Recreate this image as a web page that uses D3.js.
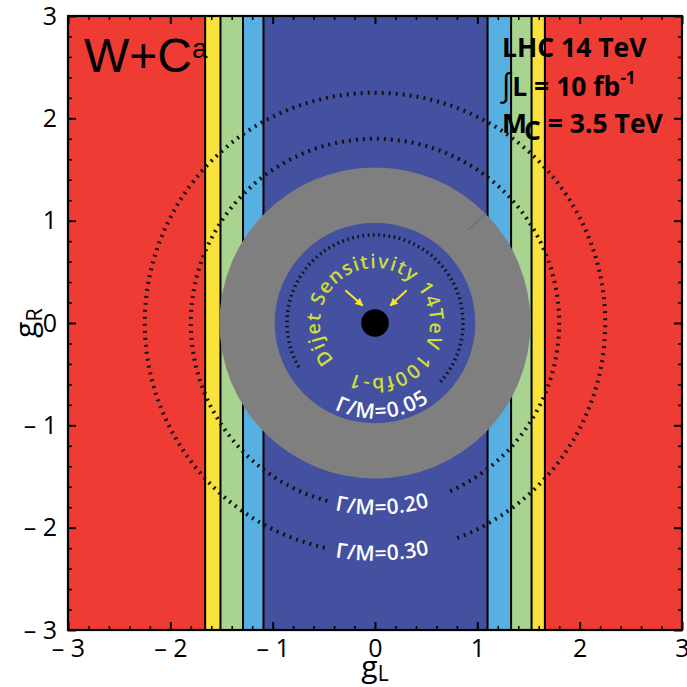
<!DOCTYPE html>
<html><head><meta charset="utf-8">
<script src="https://cdn.jsdelivr.net/npm/d3@7"></script>
<style>body{margin:0;background:#fff}svg{display:block}</style>
</head><body>
<svg id="chart" width="687" height="687"></svg>
<script>
// ---------- data ----------
const xDomain = [-3, 3];
const yDomain = [-3, 3];
const majorTicks = [-3, -2, -1, 0, 1, 2, 3];
const minorTicks = [-2.8,-2.6,-2.4,-2.2,-1.8,-1.6,-1.4,-1.2,-0.8,-0.6,-0.4,-0.2,0.2,0.4,0.6,0.8,1.2,1.4,1.6,1.8,2.2,2.4,2.6,2.8];
const bandEdges = [-1.66, -1.51, -1.29, -1.09, 1.10, 1.33, 1.53, 1.66];
const bandColors = ["#ee3b34", "#f9e23c", "#a9d48f", "#57b0e2", "#4450a0", "#57b0e2", "#a9d48f", "#f9e23c", "#ee3b34"];
const ringRadii = [1.52, 0.98];        // gray annulus outer / inner (dijet sensitivity)
const pointRadius = 0.135;             // point at origin
const contourLabels = ["Γ/M=0.05", "Γ/M=0.20", "Γ/M=0.30"];
const contourRadii = [0.86, 1.80, 2.25];
const contourGapLeft = [60, 15, 12.6];   // degrees from bottom
const contourGapRight = [48, 23, 19.8];
const dijetLabel = "Dijet Sensitivity 14TeV 100fb-1";
const arrowsFrom = [[-0.29, 0.32], [0.31, 0.32]];
const arrowsTo = [[-0.12, 0.17], [0.15, 0.17]];

// ---------- layout ----------
const svg = d3.select("#chart");
const L = 68, T = 16, S = 614;
const x = d3.scaleLinear().domain(xDomain).range([L, L + S]);
const y = d3.scaleLinear().domain(yDomain).range([T + S, T]);
const cx = x(0), cy = y(0);
const rpx = v => x(v) - x(0);

svg.append("clipPath").attr("id", "clip").append("rect")
  .attr("x", L).attr("y", T).attr("width", S).attr("height", S);
const g = svg.append("g").attr("clip-path", "url(#clip)");

// bands
const edges = [xDomain[0], ...bandEdges, xDomain[1]];
const bands = bandColors.map((c, i) => ({x0: edges[i], x1: edges[i + 1], c}));
g.selectAll("rect.band").data(bands).join("rect")
  .attr("x", d => x(d.x0)).attr("width", d => x(d.x1) - x(d.x0))
  .attr("y", T).attr("height", S).attr("fill", d => d.c);
g.selectAll("line.edge").data(bandEdges).join("line")
  .attr("x1", d => x(d)).attr("x2", d => x(d)).attr("y1", T).attr("y2", T + S)
  .attr("stroke", "#000").attr("stroke-width", 2);

// gray ring + inner disc
g.append("circle").attr("cx", cx).attr("cy", cy).attr("r", rpx(ringRadii[0])).attr("fill", "#7f7f7f");
g.append("circle").attr("cx", cx).attr("cy", cy).attr("r", rpx(ringRadii[1])).attr("fill", "#4450a0");
g.append("line").attr("x1", x(1.095)).attr("y1", y(1.075)).attr("x2", x(0.91)).attr("y2", y(0.91))
  .attr("stroke", "#4450a0").attr("stroke-width", 1).attr("opacity", 0.7);

// dotted width contours
const deg = Math.PI / 180;
contourRadii.forEach((r, i) => {
  const R = rpx(r);
  const p = d3.path();
  const a0 = (90 + contourGapLeft[i]) * deg, a1 = (450 - contourGapRight[i]) * deg;
  p.moveTo(cx + R * Math.cos(a0), cy + R * Math.sin(a0));
  p.arc(cx, cy, R, a0, a1, false);
  g.append("path").attr("d", p.toString()).attr("fill", "none").attr("stroke", "#111")
    .attr("stroke-width", i === 0 ? 3.5 : 4).attr("stroke-dasharray", i === 0 ? "1.6,3.6" : "2,5");
  const lp = d3.path();
  lp.moveTo(cx - R, cy);
  lp.arc(cx, cy, R, Math.PI, 0, true);
  g.append("path").attr("id", "lp" + i).attr("d", lp.toString()).attr("fill", "none");
  g.append("text").attr("fill", "#fff").attr("font-family", "Open Sans, sans-serif")
    .attr("font-weight", 600).attr("font-size", 21).attr("dy", "0.35em")
    .append("textPath").attr("href", "#lp" + i).attr("text-anchor", "middle")
    .attr("startOffset", Math.PI * R / 2 + 7).text(contourLabels[i]);
});

// dijet curved label
{
  const R = 55;
  const a0 = 138 * deg;
  const p = d3.path();
  p.moveTo(cx + R * Math.cos(a0), cy + R * Math.sin(a0));
  p.arc(cx, cy, R, a0, a0 + 2 * Math.PI - 0.001, false);
  g.append("path").attr("id", "dj").attr("d", p.toString()).attr("fill", "none");
  g.append("text").attr("fill", "#cfdc3a").attr("font-family", "Open Sans, sans-serif")
    .attr("font-weight", 600).attr("font-size", 19.5)
    .append("textPath").attr("href", "#dj").attr("textLength", 322).attr("lengthAdjust", "spacing")
    .text(dijetLabel);
}

// arrows
svg.append("defs").append("marker").attr("id", "ah").attr("viewBox", "0 0 10 10")
  .attr("refX", 9).attr("refY", 5).attr("markerWidth", 4).attr("markerHeight", 4)
  .attr("orient", "auto").append("path").attr("d", "M0,0L10,5L0,10z").attr("fill", "#f5e62a");
arrowsFrom.forEach((f, i) => {
  g.append("line").attr("x1", x(f[0])).attr("y1", y(f[1]))
    .attr("x2", x(arrowsTo[i][0])).attr("y2", y(arrowsTo[i][1]))
    .attr("stroke", "#f5e62a").attr("stroke-width", 2).attr("marker-end", "url(#ah)");
});

// point
g.append("circle").attr("cx", cx).attr("cy", cy).attr("r", rpx(pointRadius)).attr("fill", "#000");

// ---------- axes ----------
const fmt = d => d < 0 ? "\u2013 " + Math.abs(d) : String(d);
const axFont = "Open Sans, sans-serif";
function styleAxis(sel, w) {
  sel.select(".domain").remove();
  sel.selectAll(".tick line").attr("stroke", "#000").attr("stroke-width", w);
  sel.selectAll("text").attr("font-family", axFont).attr("font-size", 25).attr("fill", "#000");
}
const axes = [
  [d3.axisBottom(x), `translate(0,${T + S})`],
  [d3.axisTop(x), `translate(0,${T})`],
  [d3.axisLeft(y), `translate(${L},0)`],
  [d3.axisRight(y), `translate(${L + S},0)`]
];
axes.forEach(([ax, tr], i) => {
  const labelled = i === 0 || i === 2;
  svg.append("g").attr("transform", tr)
    .call(ax.tickValues(majorTicks).tickSize(-8).tickPadding(i === 0 ? 9 : 11)
      .tickFormat(labelled ? fmt : ""))
    .call(s => styleAxis(s, 2));
  const ax2 = (i === 0 ? d3.axisBottom(x) : i === 1 ? d3.axisTop(x) : i === 2 ? d3.axisLeft(y) : d3.axisRight(y));
  svg.append("g").attr("transform", tr)
    .call(ax2.tickValues(minorTicks).tickSize(-4).tickFormat(""))
    .call(s => styleAxis(s, 1.6));
});
svg.append("rect").attr("x", L).attr("y", T).attr("width", S).attr("height", S)
  .attr("fill", "none").attr("stroke", "#000").attr("stroke-width", 2.2);

// axis titles
const xt = svg.append("text").attr("x", x(0)).attr("y", 677).attr("text-anchor", "middle")
  .attr("font-family", axFont).attr("font-size", 30);
xt.append("tspan").text("g");
xt.append("tspan").attr("font-size", 21).attr("dy", 4).text("L");
const yt = svg.append("text").attr("transform", `translate(36,${y(0)}) rotate(-90)`)
  .attr("text-anchor", "middle").attr("font-family", axFont).attr("font-size", 30);
yt.append("tspan").text("g");
yt.append("tspan").attr("font-size", 22).attr("dy", 6).text("R");

// ---------- annotations ----------
const wc = svg.append("text").attr("x", 84).attr("y", 72)
  .attr("font-family", "Liberation Sans, Arial, sans-serif").attr("font-size", 48).attr("fill", "#000");
wc.append("tspan").text("W+C");
wc.append("tspan").attr("font-size", 28).attr("dy", -14).text("a");

const tf = "Open Sans, sans-serif";
svg.append("text").attr("x", 502).attr("y", 57).attr("font-family", tf)
  .attr("font-weight", 700).attr("font-size", 26.5).text("LHC 14 TeV");
const t2 = svg.append("text").attr("x", 500).attr("y", 96).attr("font-family", tf)
  .attr("font-weight", 700).attr("font-size", 26.5);
t2.append("tspan").attr("font-size", 32).attr("font-weight", 400).text("\u222B");
t2.append("tspan").text("L = 10 fb");
t2.append("tspan").attr("font-size", 17).attr("dy", -12).text("-1");
const t3 = svg.append("text").attr("x", 502).attr("y", 133).attr("font-family", tf)
  .attr("font-weight", 700).attr("font-size", 26.5);
t3.append("tspan").text("M");
t3.append("tspan").attr("dy", 7).attr("dx", -3).text("C");
t3.append("tspan").attr("dy", -7).text(" = 3.5 TeV");
</script>
</body></html>
